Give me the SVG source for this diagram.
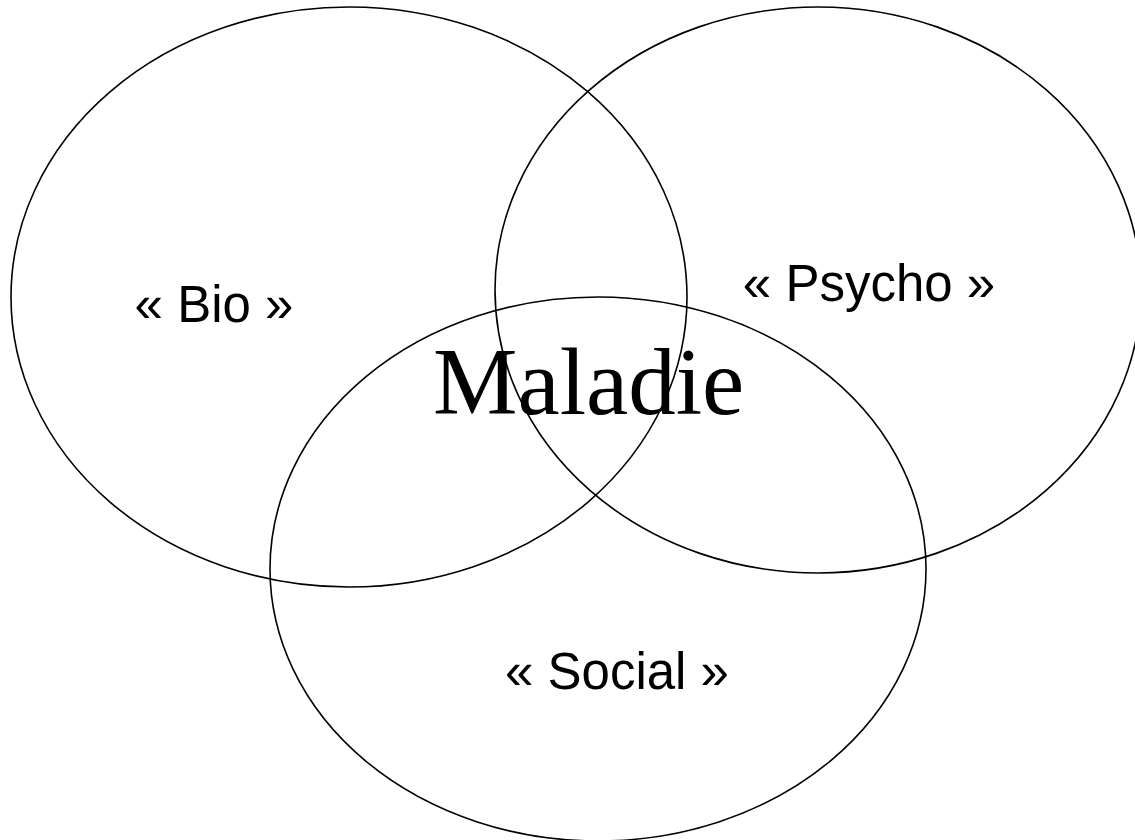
<svg xmlns="http://www.w3.org/2000/svg" width="1135" height="840" viewBox="0 0 1135 840">
<style>
.c{fill:none;stroke:#000;stroke-width:1.6}
.lbl{font-family:"Liberation Sans",Arial,sans-serif;font-size:51px;fill:#000;text-anchor:middle}
.main{font-family:"Liberation Serif","Times New Roman",serif;font-size:95px;fill:#000}
</style>
<rect width="1135" height="840" fill="#fff"/>
<g id="bio"><ellipse class="c" cx="349" cy="297" rx="338" ry="290"/><text class="lbl" x="214" y="322">« Bio »</text></g>
<g id="psycho"><ellipse class="c" cx="818" cy="290" rx="323" ry="283"/><text class="lbl" x="869" y="301">« Psycho »</text></g>
<g id="social"><ellipse class="c" cx="598" cy="569" rx="328" ry="272"/><text class="lbl" x="617" y="689">« Social »</text></g>
<g id="maladie"><text class="main" x="433" y="414">Maladie</text></g>
<g id="connectors"></g>
</svg>
